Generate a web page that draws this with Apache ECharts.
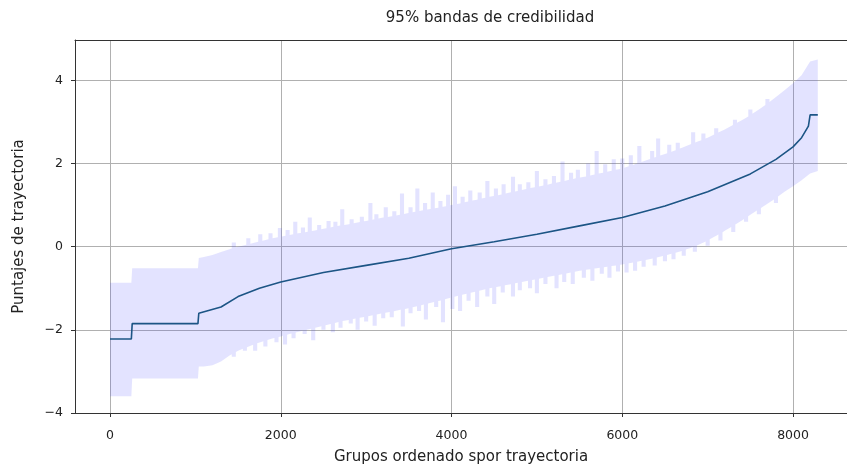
<!DOCTYPE html>
<html>
<head>
<meta charset="utf-8">
<script src="https://cdn.jsdelivr.net/npm/echarts@6/dist/echarts.min.js"></script>
<style>
  html, body { margin: 0; padding: 0; background: #fff; }
  #credBands { width: 847px; height: 470px; }
</style>
</head>
<body>
<div id="credBands"></div>
<script>
// linea central (media posterior) por grupo ordenado
const lineX = [0, 250, 260, 1030, 1040, 1300, 1500, 1750, 2000, 2500, 3000, 3500, 4000,
  4500, 5000, 5500, 6000, 6500, 7000, 7500, 7800, 8000, 8100, 8180, 8200, 8290];
const lineY = [-2.22, -2.22, -1.85, -1.85, -1.6, -1.45, -1.2, -1.0, -0.85, -0.62, -0.45, -0.28, -0.05,
  0.12, 0.3, 0.5, 0.7, 0.98, 1.32, 1.75, 2.1, 2.4, 2.62, 2.9, 3.17, 3.17];

// bandas de credibilidad 95% (borde base)
const bandX = [0, 250, 260, 1030, 1040, 1100, 1200, 1300, 1400, 1500, 1600, 1700, 1800, 1900,
  2000, 2100, 2200, 2300, 2400, 2500, 2600, 2700, 2800, 2900,
  3000, 3100, 3200, 3300, 3400, 3500, 3600, 3700, 3800, 3900,
  4000, 4100, 4200, 4300, 4400, 4500, 4600, 4700, 4800, 4900,
  5000, 5100, 5200, 5300, 5400, 5500, 5600, 5700, 5800, 5900,
  6000, 6100, 6200, 6300, 6400, 6500, 6600, 6700, 6800, 6900,
  7000, 7100, 7200, 7300, 7400, 7500, 7600, 7700, 7800, 7900,
  8000, 8100, 8200, 8290];
const bandUpper = [-0.87, -0.87, -0.52, -0.52, -0.27, -0.25, -0.2, -0.13, -0.06, 0.0, 0.05, 0.1, 0.15, 0.2,
  0.24, 0.28, 0.32, 0.35, 0.39, 0.43, 0.47, 0.51, 0.54, 0.58,
  0.62, 0.66, 0.7, 0.73, 0.77, 0.81, 0.85, 0.89, 0.92, 0.96,
  1.0, 1.04, 1.09, 1.13, 1.18, 1.22, 1.26, 1.31, 1.35, 1.4,
  1.44, 1.48, 1.53, 1.57, 1.62, 1.66, 1.7, 1.75, 1.79, 1.84,
  1.88, 1.95, 2.02, 2.09, 2.16, 2.23, 2.3, 2.38, 2.46, 2.54,
  2.62, 2.72, 2.82, 2.93, 3.04, 3.16, 3.3, 3.44, 3.6, 3.76,
  3.93, 4.12, 4.45, 4.5];
const bandLower = [-3.6, -3.6, -3.17, -3.17, -2.88, -2.88, -2.85, -2.76, -2.62, -2.5, -2.42, -2.34, -2.27, -2.21,
  -2.16, -2.1, -2.05, -2.0, -1.95, -1.9, -1.85, -1.8, -1.76, -1.72,
  -1.68, -1.64, -1.6, -1.56, -1.52, -1.48, -1.43, -1.38, -1.33, -1.28,
  -1.22, -1.17, -1.12, -1.07, -1.02, -0.98, -0.94, -0.9, -0.86, -0.82,
  -0.78, -0.74, -0.7, -0.66, -0.62, -0.58, -0.55, -0.52, -0.49, -0.46,
  -0.43, -0.39, -0.35, -0.31, -0.26, -0.21, -0.16, -0.1, -0.03, 0.05,
  0.15, 0.26, 0.38, 0.5, 0.63, 0.77, 0.9, 1.03, 1.17, 1.32,
  1.45, 1.6, 1.76, 1.82];

// picos individuales de los intervalos (extremos)
const upperSpikeX = [1450, 1620, 1760, 1880, 1990, 2080, 2170, 2260, 2340, 2450, 2560, 2640, 2720, 2830,
  2950, 3050, 3120, 3230, 3330, 3420, 3520, 3600, 3690, 3780, 3870, 3960, 4040, 4130, 4220, 4330,
  4420, 4520, 4610, 4720, 4800, 4900, 5000, 5100, 5200, 5300, 5400, 5480, 5600, 5700, 5800, 5900,
  6000, 6100, 6200, 6350, 6420, 6550, 6650, 6830, 6950, 7100, 7320, 7500, 7700];
const upperSpikeY = [0.1, 0.2, 0.3, 0.32, 0.45, 0.4, 0.6, 0.46, 0.7, 0.52, 0.62, 0.6, 0.9, 0.66,
  0.72, 1.05, 0.78, 0.95, 0.85, 1.28, 0.95, 1.4, 1.05, 1.3, 1.1, 1.25, 1.45, 1.2, 1.35, 1.3,
  1.58, 1.4, 1.5, 1.68, 1.5, 1.55, 1.82, 1.62, 1.7, 2.05, 1.78, 1.85, 2.0, 2.3, 1.98, 2.1,
  2.12, 2.2, 2.42, 2.3, 2.6, 2.45, 2.5, 2.75, 2.72, 2.85, 3.05, 3.3, 3.55];
const lowerSpikeX = [1450, 1580, 1700, 1820, 1950, 2050, 2150, 2280, 2380, 2500, 2610, 2700, 2820, 2900,
  3000, 3100, 3200, 3300, 3430, 3520, 3620, 3700, 3820, 3900, 4010, 4100, 4200, 4300, 4420, 4500,
  4600, 4720, 4800, 4920, 5000, 5100, 5230, 5320, 5420, 5550, 5650, 5760, 5850, 5950, 6050, 6150,
  6250, 6380, 6500, 6600, 6720, 6850, 7000, 7150, 7300, 7450, 7600, 7800];
const lowerSpikeY = [-2.65, -2.5, -2.5, -2.4, -2.3, -2.35, -2.2, -2.1, -2.25, -2.0, -2.06, -1.95, -1.85, -2.0,
  -1.8, -1.9, -1.72, -1.7, -1.92, -1.6, -1.55, -1.75, -1.45, -1.82, -1.5, -1.55, -1.3, -1.45, -1.2, -1.38,
  -1.1, -1.2, -1.05, -1.0, -1.12, -0.9, -1.0, -0.85, -0.9, -0.75, -0.82, -0.65, -0.75, -0.6, -0.62, -0.58,
  -0.48, -0.45, -0.35, -0.3, -0.22, -0.12, 0.02, 0.15, 0.35, 0.6, 0.78, 1.05];

const chart = echarts.init(document.getElementById("credBands"));
const font = "DejaVu Sans";
const bandFill = "rgba(70, 70, 255, 0.15)";
const spikeHalf = 24; // media anchura del pico, unidades del eje x
const minusSign = (v) => String(v).replace("-", "\u2212");
const frame = { show: true, onZero: false, lineStyle: { color: "#333", width: 1 } };

function edgeAt(x, edge) {
  for (let i = 1; i < bandX.length; i++) {
    if (x <= bandX[i]) {
      const t = (x - bandX[i - 1]) / (bandX[i] - bandX[i - 1]);
      return edge[i - 1] + t * (edge[i] - edge[i - 1]);
    }
  }
  return edge[edge.length - 1];
}

// borde del poligono: base + picos rectangulares, ordenados por x
function edgePoints(edge, spikeX, spikeY) {
  const inSpike = (x) => spikeX.some((s) => x >= s - spikeHalf && x <= s + spikeHalf);
  const pts = [];
  bandX.forEach((x, i) => {
    if (!inSpike(x)) pts.push([x, edge[i]]);
  });
  spikeX.forEach((x, i) => {
    const a = x - spikeHalf;
    const b = x + spikeHalf;
    pts.push([a, edgeAt(a, edge)], [a + 0.1, spikeY[i]], [b - 0.1, spikeY[i]], [b, edgeAt(b, edge)]);
  });
  return pts.sort((p, q) => p[0] - q[0]);
}

chart.setOption({
  animation: false,
  textStyle: { fontFamily: font },
  graphic: [
    {
      type: "text",
      x: 490,
      y: 18,
      style: {
        text: "95% bandas de credibilidad",
        font: "15px " + font,
        fill: "#222",
        align: "center",
        verticalAlign: "middle",
      },
    },
  ],
  grid: {
    left: 75,
    top: 40,
    right: 0,
    bottom: 57,
    containLabel: false,
    outerBoundsMode: "none",
  },
  xAxis: [
    {
      type: "value",
      position: "bottom",
      min: -410,
      max: 8632,
      splitNumber: 5,
      name: "Grupos ordenado spor trayectoria",
      nameLocation: "middle",
      nameGap: 37,
      nameTextStyle: { fontSize: 15, color: "#222" },
      axisLine: frame,
      axisTick: { show: true, length: 4, lineStyle: { color: "#333" } },
      axisLabel: {
        fontSize: 12.5,
        color: "#222",
        margin: 16,
        showMinLabel: false,
        showMaxLabel: false,
        formatter: (v) => minusSign(v),
      },
      splitLine: { show: true, lineStyle: { color: "#b0b0b0", width: 1 } },
    },
    {
      type: "value",
      position: "top",
      min: -410,
      max: 8632,
      axisLine: frame,
      axisTick: { show: false },
      axisLabel: { show: false },
      splitLine: { show: false },
    },
  ],
  yAxis: {
    type: "value",
    min: -4,
    max: 4.97,
    interval: 2,
    name: "Puntajes de trayectoria",
    nameLocation: "middle",
    nameGap: 48,
    nameTextStyle: { fontSize: 15, color: "#222" },
    axisLine: frame,
    axisTick: { show: true, length: 4, lineStyle: { color: "#333" } },
    axisLabel: {
      fontSize: 12.5,
      color: "#222",
      margin: 12,
      showMaxLabel: false,
      formatter: (v) => minusSign(v),
    },
    splitLine: { show: true, lineStyle: { color: "#b0b0b0", width: 1 } },
  },
  series: [
    {
      type: "custom",
      z: 1,
      data: [[0, 0]],
      renderItem(params, api) {
        const top = edgePoints(bandUpper, upperSpikeX, upperSpikeY);
        const bottom = edgePoints(bandLower, lowerSpikeX, lowerSpikeY).reverse();
        const pts = top.concat(bottom).map((p) => api.coord(p));
        return {
          type: "polygon",
          shape: { points: pts },
          style: { fill: bandFill },
        };
      },
    },
    {
      type: "line",
      z: 3,
      showSymbol: false,
      data: lineX.map((x, i) => [x, lineY[i]]),
      lineStyle: { color: "#1c5585", width: 1.6 },
    },
  ],
});
</script>
</body>
</html>
